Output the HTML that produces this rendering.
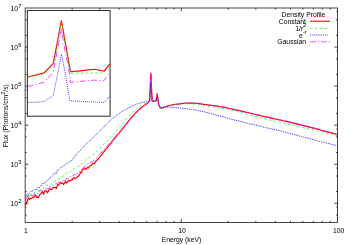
<!DOCTYPE html>
<html><head><meta charset="utf-8"><title>Flux vs Energy</title>
<style>
html,body{margin:0;padding:0;background:#fff;}
body{width:350px;height:245px;overflow:hidden;font-family:"Liberation Sans",sans-serif;}
svg{display:block;will-change:transform;}
text{font-family:"Liberation Sans",sans-serif;fill:#000;}
</style></head><body>
<svg width="350" height="245" viewBox="0 0 350 245">
<rect width="350" height="245" fill="#fff"/>
<g id="ticks">
<line x1="25.15" y1="203.30" x2="28.35" y2="203.30" stroke="#1a1a1a" stroke-width="0.80"/>
<line x1="337.50" y1="203.30" x2="334.30" y2="203.30" stroke="#1a1a1a" stroke-width="0.80"/>
<line x1="25.15" y1="215.06" x2="26.75" y2="215.06" stroke="#1a1a1a" stroke-width="0.80"/>
<line x1="337.50" y1="215.06" x2="335.90" y2="215.06" stroke="#1a1a1a" stroke-width="0.80"/>
<line x1="25.15" y1="207.09" x2="26.35" y2="207.09" stroke="#1a1a1a" stroke-width="0.80"/>
<line x1="337.50" y1="207.09" x2="336.30" y2="207.09" stroke="#1a1a1a" stroke-width="0.80"/>
<line x1="25.15" y1="164.24" x2="28.35" y2="164.24" stroke="#1a1a1a" stroke-width="0.80"/>
<line x1="337.50" y1="164.24" x2="334.30" y2="164.24" stroke="#1a1a1a" stroke-width="0.80"/>
<line x1="25.15" y1="191.54" x2="26.75" y2="191.54" stroke="#1a1a1a" stroke-width="0.80"/>
<line x1="337.50" y1="191.54" x2="335.90" y2="191.54" stroke="#1a1a1a" stroke-width="0.80"/>
<line x1="25.15" y1="176.00" x2="26.75" y2="176.00" stroke="#1a1a1a" stroke-width="0.80"/>
<line x1="337.50" y1="176.00" x2="335.90" y2="176.00" stroke="#1a1a1a" stroke-width="0.80"/>
<line x1="25.15" y1="168.03" x2="26.35" y2="168.03" stroke="#1a1a1a" stroke-width="0.80"/>
<line x1="337.50" y1="168.03" x2="336.30" y2="168.03" stroke="#1a1a1a" stroke-width="0.80"/>
<line x1="25.15" y1="125.18" x2="28.35" y2="125.18" stroke="#1a1a1a" stroke-width="0.80"/>
<line x1="337.50" y1="125.18" x2="334.30" y2="125.18" stroke="#1a1a1a" stroke-width="0.80"/>
<line x1="25.15" y1="152.48" x2="26.75" y2="152.48" stroke="#1a1a1a" stroke-width="0.80"/>
<line x1="337.50" y1="152.48" x2="335.90" y2="152.48" stroke="#1a1a1a" stroke-width="0.80"/>
<line x1="25.15" y1="136.94" x2="26.75" y2="136.94" stroke="#1a1a1a" stroke-width="0.80"/>
<line x1="337.50" y1="136.94" x2="335.90" y2="136.94" stroke="#1a1a1a" stroke-width="0.80"/>
<line x1="25.15" y1="128.97" x2="26.35" y2="128.97" stroke="#1a1a1a" stroke-width="0.80"/>
<line x1="337.50" y1="128.97" x2="336.30" y2="128.97" stroke="#1a1a1a" stroke-width="0.80"/>
<line x1="25.15" y1="86.12" x2="28.35" y2="86.12" stroke="#1a1a1a" stroke-width="0.80"/>
<line x1="337.50" y1="86.12" x2="334.30" y2="86.12" stroke="#1a1a1a" stroke-width="0.80"/>
<line x1="25.15" y1="113.42" x2="26.75" y2="113.42" stroke="#1a1a1a" stroke-width="0.80"/>
<line x1="337.50" y1="113.42" x2="335.90" y2="113.42" stroke="#1a1a1a" stroke-width="0.80"/>
<line x1="25.15" y1="97.88" x2="26.75" y2="97.88" stroke="#1a1a1a" stroke-width="0.80"/>
<line x1="337.50" y1="97.88" x2="335.90" y2="97.88" stroke="#1a1a1a" stroke-width="0.80"/>
<line x1="25.15" y1="89.91" x2="26.35" y2="89.91" stroke="#1a1a1a" stroke-width="0.80"/>
<line x1="337.50" y1="89.91" x2="336.30" y2="89.91" stroke="#1a1a1a" stroke-width="0.80"/>
<line x1="25.15" y1="47.06" x2="28.35" y2="47.06" stroke="#1a1a1a" stroke-width="0.80"/>
<line x1="337.50" y1="47.06" x2="334.30" y2="47.06" stroke="#1a1a1a" stroke-width="0.80"/>
<line x1="25.15" y1="74.36" x2="26.75" y2="74.36" stroke="#1a1a1a" stroke-width="0.80"/>
<line x1="337.50" y1="74.36" x2="335.90" y2="74.36" stroke="#1a1a1a" stroke-width="0.80"/>
<line x1="25.15" y1="58.82" x2="26.75" y2="58.82" stroke="#1a1a1a" stroke-width="0.80"/>
<line x1="337.50" y1="58.82" x2="335.90" y2="58.82" stroke="#1a1a1a" stroke-width="0.80"/>
<line x1="25.15" y1="50.85" x2="26.35" y2="50.85" stroke="#1a1a1a" stroke-width="0.80"/>
<line x1="337.50" y1="50.85" x2="336.30" y2="50.85" stroke="#1a1a1a" stroke-width="0.80"/>
<line x1="25.15" y1="35.30" x2="26.75" y2="35.30" stroke="#1a1a1a" stroke-width="0.80"/>
<line x1="337.50" y1="35.30" x2="335.90" y2="35.30" stroke="#1a1a1a" stroke-width="0.80"/>
<line x1="25.15" y1="19.76" x2="26.75" y2="19.76" stroke="#1a1a1a" stroke-width="0.80"/>
<line x1="337.50" y1="19.76" x2="335.90" y2="19.76" stroke="#1a1a1a" stroke-width="0.80"/>
<line x1="25.15" y1="11.79" x2="26.35" y2="11.79" stroke="#1a1a1a" stroke-width="0.80"/>
<line x1="337.50" y1="11.79" x2="336.30" y2="11.79" stroke="#1a1a1a" stroke-width="0.80"/>
<line x1="72.16" y1="222.50" x2="72.16" y2="220.90" stroke="#1a1a1a" stroke-width="0.80"/>
<line x1="72.16" y1="8.00" x2="72.16" y2="9.60" stroke="#1a1a1a" stroke-width="0.80"/>
<line x1="99.66" y1="222.50" x2="99.66" y2="220.90" stroke="#1a1a1a" stroke-width="0.80"/>
<line x1="99.66" y1="8.00" x2="99.66" y2="9.60" stroke="#1a1a1a" stroke-width="0.80"/>
<line x1="119.18" y1="222.50" x2="119.18" y2="220.90" stroke="#1a1a1a" stroke-width="0.80"/>
<line x1="119.18" y1="8.00" x2="119.18" y2="9.60" stroke="#1a1a1a" stroke-width="0.80"/>
<line x1="134.31" y1="222.50" x2="134.31" y2="220.90" stroke="#1a1a1a" stroke-width="0.80"/>
<line x1="134.31" y1="8.00" x2="134.31" y2="9.60" stroke="#1a1a1a" stroke-width="0.80"/>
<line x1="146.68" y1="222.50" x2="146.68" y2="220.90" stroke="#1a1a1a" stroke-width="0.80"/>
<line x1="146.68" y1="8.00" x2="146.68" y2="9.60" stroke="#1a1a1a" stroke-width="0.80"/>
<line x1="157.13" y1="222.50" x2="157.13" y2="220.90" stroke="#1a1a1a" stroke-width="0.80"/>
<line x1="157.13" y1="8.00" x2="157.13" y2="9.60" stroke="#1a1a1a" stroke-width="0.80"/>
<line x1="166.19" y1="222.50" x2="166.19" y2="220.90" stroke="#1a1a1a" stroke-width="0.80"/>
<line x1="166.19" y1="8.00" x2="166.19" y2="9.60" stroke="#1a1a1a" stroke-width="0.80"/>
<line x1="174.18" y1="222.50" x2="174.18" y2="220.90" stroke="#1a1a1a" stroke-width="0.80"/>
<line x1="174.18" y1="8.00" x2="174.18" y2="9.60" stroke="#1a1a1a" stroke-width="0.80"/>
<line x1="181.33" y1="222.50" x2="181.33" y2="219.30" stroke="#1a1a1a" stroke-width="0.80"/>
<line x1="181.33" y1="8.00" x2="181.33" y2="11.20" stroke="#1a1a1a" stroke-width="0.80"/>
<line x1="228.34" y1="222.50" x2="228.34" y2="220.90" stroke="#1a1a1a" stroke-width="0.80"/>
<line x1="228.34" y1="8.00" x2="228.34" y2="9.60" stroke="#1a1a1a" stroke-width="0.80"/>
<line x1="255.84" y1="222.50" x2="255.84" y2="220.90" stroke="#1a1a1a" stroke-width="0.80"/>
<line x1="255.84" y1="8.00" x2="255.84" y2="9.60" stroke="#1a1a1a" stroke-width="0.80"/>
<line x1="275.35" y1="222.50" x2="275.35" y2="220.90" stroke="#1a1a1a" stroke-width="0.80"/>
<line x1="275.35" y1="8.00" x2="275.35" y2="9.60" stroke="#1a1a1a" stroke-width="0.80"/>
<line x1="290.49" y1="222.50" x2="290.49" y2="220.90" stroke="#1a1a1a" stroke-width="0.80"/>
<line x1="290.49" y1="8.00" x2="290.49" y2="9.60" stroke="#1a1a1a" stroke-width="0.80"/>
<line x1="302.85" y1="222.50" x2="302.85" y2="220.90" stroke="#1a1a1a" stroke-width="0.80"/>
<line x1="302.85" y1="8.00" x2="302.85" y2="9.60" stroke="#1a1a1a" stroke-width="0.80"/>
<line x1="313.31" y1="222.50" x2="313.31" y2="220.90" stroke="#1a1a1a" stroke-width="0.80"/>
<line x1="313.31" y1="8.00" x2="313.31" y2="9.60" stroke="#1a1a1a" stroke-width="0.80"/>
<line x1="322.37" y1="222.50" x2="322.37" y2="220.90" stroke="#1a1a1a" stroke-width="0.80"/>
<line x1="322.37" y1="8.00" x2="322.37" y2="9.60" stroke="#1a1a1a" stroke-width="0.80"/>
<line x1="330.35" y1="222.50" x2="330.35" y2="220.90" stroke="#1a1a1a" stroke-width="0.80"/>
<line x1="330.35" y1="8.00" x2="330.35" y2="9.60" stroke="#1a1a1a" stroke-width="0.80"/>
</g>
<g id="main-curves">
<polyline points="25.5,204.9 26.5,202.2 27.5,201.0 28.5,197.6 29.5,199.3 30.5,198.6 31.5,198.5 32.5,197.2 33.5,197.6 34.5,196.5 35.5,194.9 36.5,197.4 37.5,196.9 38.5,197.5 39.5,194.9 40.5,193.9 41.5,193.2 42.5,191.5 43.5,194.2 44.5,191.2 45.5,190.6 46.5,191.3 47.5,192.8 48.5,190.9 49.5,189.0 50.5,188.8 51.5,189.8 52.5,188.5 53.5,187.3 54.5,187.3 55.5,187.8 56.5,188.5 57.5,184.7 58.5,184.9 59.5,184.3 60.5,182.4 61.5,183.4 62.5,183.0 63.5,184.6 64.5,183.1 65.5,181.4 66.5,183.0 67.5,181.8 68.5,180.3 69.5,180.9 70.5,180.5 71.5,179.7 72.5,179.8 73.5,177.4 74.5,178.2 75.5,178.4 76.5,177.5 77.5,176.8 78.5,175.8 79.5,175.0 80.5,172.2 81.5,172.6 82.5,169.9 83.5,169.7 84.5,168.1 85.5,169.2 86.5,168.8 87.5,167.4 88.5,168.0 89.5,166.1 90.5,165.8 91.5,165.1 92.5,163.7 93.5,163.6 94.5,163.4 95.5,161.0 96.5,160.8 97.5,159.3 98.5,158.9 99.5,157.3 100.5,156.2 101.5,155.0 102.5,153.6 103.5,151.9 104.5,151.5 105.5,149.4 106.5,148.6 107.5,147.5 108.5,145.9 109.5,144.9 110.5,143.9 111.5,142.4 112.5,141.0 113.5,139.4 114.5,138.5 115.5,137.4 116.5,136.2 117.5,134.9 118.5,133.8 119.5,132.5 120.5,131.4 121.5,130.2 122.5,128.9 123.5,127.6 124.5,126.3 125.5,125.0 126.5,123.7 127.5,122.4 128.5,121.1 129.5,119.9 130.5,118.7 131.5,117.5 132.5,116.4 133.5,115.3 134.5,114.2 135.5,113.1 136.5,112.1 137.5,111.1 138.5,110.1 139.5,109.2 140.5,108.3 141.5,107.5 142.5,106.7 143.5,106.0 144.5,105.3 145.5,104.7 146.5,103.9 147.5,103.1 148.5,102.3 148.6,102.2 149.6,101.2 150.8,73.0 152.2,101.2 154.0,101.0 156.0,100.8 157.3,93.7 158.6,104.5 160.4,107.9 161.5,108.0 163.5,107.2 165.5,106.5 167.5,106.0 169.5,105.5 171.5,105.1 173.5,104.7 175.5,104.4 177.5,104.1 179.5,103.9 181.5,103.6 183.5,103.4 185.5,103.2 187.5,103.1 189.5,103.1 191.5,103.2 193.5,103.2 195.5,103.3 197.5,103.5 199.5,103.7 201.5,104.0 203.5,104.3 205.5,104.5 207.5,104.8 209.5,105.1 211.5,105.4 213.5,105.6 215.5,105.9 217.5,106.2 219.5,106.5 221.5,106.9 223.5,107.2 225.5,107.6 227.5,108.0 229.5,108.5 231.5,108.9 233.5,109.3 235.5,109.8 237.5,110.2 239.5,110.7 241.5,111.1 243.5,111.6 245.5,112.1 247.5,112.5 249.5,113.0 251.5,113.5 253.5,114.0 255.5,114.5 257.5,114.9 259.5,115.4 261.5,115.9 263.5,116.3 265.5,116.8 267.5,117.2 269.5,117.7 271.5,118.1 273.5,118.6 275.5,119.0 277.5,119.4 279.5,119.9 281.5,120.3 283.5,120.8 285.5,121.2 287.5,121.7 289.5,122.2 291.5,122.7 293.5,123.1 295.5,123.6 297.5,124.1 299.5,124.6 301.5,125.1 303.5,125.6 305.5,126.2 307.5,126.7 309.5,127.2 311.5,127.7 313.5,128.2 315.5,128.7 317.5,129.2 319.5,129.7 321.5,130.3 323.5,130.8 325.5,131.3 327.5,131.8 329.5,132.4 331.5,132.9 333.5,133.4 335.5,134.0 337.5,134.5" fill="none" stroke="#ff0000" stroke-width="1.20" stroke-linejoin="round"/>
<polyline points="25.5,197.0 26.5,195.9 27.5,198.1 28.5,195.1 29.5,195.1 30.5,196.0 31.5,193.2 32.5,193.1 33.5,193.3 34.5,192.4 35.5,191.2 36.5,191.6 37.5,191.0 38.5,191.3 39.5,188.9 40.5,189.2 41.5,190.1 42.5,190.1 43.5,187.0 44.5,188.1 45.5,186.3 46.5,185.8 47.5,185.2 48.5,185.0 49.5,185.3 50.5,184.5 51.5,183.5 52.5,182.6 53.5,182.2 54.5,181.5 55.5,181.4 56.5,179.9 57.5,179.7 58.5,179.0 59.5,178.3 60.5,177.8 61.5,177.1 62.5,176.9 63.5,175.5 64.5,175.7 65.5,174.1 66.5,173.4 67.5,173.1 68.5,172.6 69.5,172.0 70.5,171.8 71.5,171.1 72.5,170.2 73.5,169.3 74.5,168.8 75.5,168.7 76.5,167.7 77.5,166.6 78.5,166.1 79.5,165.4 80.5,165.1 81.5,163.9 82.5,163.6 83.5,162.3 84.5,161.2 85.5,160.3 86.5,159.7 87.5,158.7 88.5,157.9 89.5,157.4 90.5,156.6 91.5,156.1 92.5,155.2 93.5,154.1 94.5,153.6 95.5,152.5 96.5,151.7 97.5,150.7 98.5,149.6 99.5,148.5 100.5,147.5 101.5,146.5 102.5,145.5 103.5,144.4 104.5,143.4 105.5,142.4 106.5,141.3 107.5,140.2 108.5,139.1 109.5,138.0 110.5,136.9 111.5,135.8 112.5,134.7 113.5,133.7 114.5,132.6 115.5,131.5 116.5,130.4 117.5,129.3 118.5,128.3 119.5,127.2 120.5,126.1 121.5,125.0 122.5,123.9 123.5,122.7 124.5,121.5 125.5,120.3 126.5,119.1 127.5,118.0 128.5,116.8 129.5,115.7 130.5,114.6 131.5,113.5 132.5,112.4 133.5,111.3 134.5,110.4 135.5,109.5 136.5,108.6 137.5,107.9 138.5,107.1 139.5,106.4 140.5,105.7 141.5,105.1 142.5,104.5 143.5,104.0 144.5,103.5 145.5,103.0 146.5,102.6 147.5,102.2 148.5,101.8 148.6,101.8 149.6,101.2 150.8,79.0 152.2,101.2 154.0,101.0 156.0,100.8 157.3,95.5 158.6,104.5 160.4,107.9 161.5,108.0 163.5,107.2 165.5,106.6 167.5,106.0 169.5,105.6 171.5,105.2 173.5,104.9 175.5,104.6 177.5,104.4 179.5,104.1 181.5,104.0 183.5,103.8 185.5,103.7 187.5,103.6 189.5,103.6 191.5,103.7 193.5,103.9 195.5,104.1 197.5,104.3 199.5,104.6 201.5,105.0 203.5,105.4 205.5,105.8 207.5,106.2 209.5,106.5 211.5,106.8 213.5,107.1 215.5,107.4 217.5,107.7 219.5,108.0 221.5,108.3 223.5,108.7 225.5,109.1 227.5,109.5 229.5,110.0 231.5,110.4 233.5,110.9 235.5,111.3 237.5,111.8 239.5,112.3 241.5,112.8 243.5,113.3 245.5,113.8 247.5,114.3 249.5,114.9 251.5,115.4 253.5,115.9 255.5,116.4 257.5,117.0 259.5,117.5 261.5,118.0 263.5,118.5 265.5,119.0 267.5,119.4 269.5,119.9 271.5,120.4 273.5,120.9 275.5,121.4 277.5,121.8 279.5,122.3 281.5,122.7 283.5,123.2 285.5,123.6 287.5,124.1 289.5,124.5 291.5,125.0 293.5,125.4 295.5,125.9 297.5,126.4 299.5,126.8 301.5,127.3 303.5,127.8 305.5,128.2 307.5,128.7 309.5,129.2 311.5,129.6 313.5,130.1 315.5,130.6 317.5,131.0 319.5,131.5 321.5,131.9 323.5,132.4 325.5,132.8 327.5,133.3 329.5,133.7 331.5,134.2 333.5,134.6 335.5,135.1 337.5,135.5" fill="none" stroke="#00ff00" stroke-width="0.80" stroke-dasharray="2.2 2.65" stroke-linejoin="round"/>
<polyline points="25.5,196.3 26.5,195.3 27.5,193.8 28.5,194.2 29.5,193.1 30.5,192.3 31.5,190.7 32.5,190.9 33.5,190.4 34.5,189.3 35.5,189.7 36.5,189.9 37.5,187.9 38.5,187.5 39.5,187.6 40.5,185.8 41.5,185.9 42.5,183.3 43.5,183.1 44.5,183.4 45.5,182.2 46.5,180.9 47.5,180.7 48.5,179.5 49.5,178.8 50.5,177.4 51.5,176.9 52.5,176.1 53.5,174.8 54.5,173.0 55.5,173.1 56.5,173.4 57.5,169.8 58.5,169.7 59.5,168.8 60.5,167.8 61.5,167.2 62.5,166.4 63.5,165.9 64.5,165.4 65.5,164.1 66.5,163.7 67.5,163.0 68.5,162.8 69.5,161.9 70.5,161.1 71.5,161.0 72.5,159.3 73.5,157.9 74.5,157.1 75.5,155.4 76.5,154.4 77.5,153.2 78.5,151.9 79.5,150.8 80.5,150.2 81.5,149.2 82.5,148.2 83.5,147.3 84.5,145.9 85.5,144.9 86.5,143.7 87.5,142.7 88.5,141.9 89.5,141.0 90.5,140.0 91.5,139.1 92.5,138.1 93.5,137.2 94.5,136.2 95.5,135.2 96.5,134.2 97.5,133.2 98.5,132.2 99.5,131.2 100.5,130.2 101.5,129.2 102.5,128.2 103.5,127.2 104.5,126.1 105.5,125.1 106.5,124.1 107.5,123.1 108.5,122.2 109.5,121.3 110.5,120.3 111.5,119.4 112.5,118.5 113.5,117.7 114.5,116.8 115.5,116.1 116.5,115.3 117.5,114.6 118.5,113.9 119.5,113.3 120.5,112.6 121.5,111.9 122.5,111.2 123.5,110.5 124.5,109.9 125.5,109.4 126.5,108.9 127.5,108.4 128.5,107.9 129.5,107.5 130.5,106.9 131.5,106.4 132.5,105.9 133.5,105.4 134.5,105.0 135.5,104.6 136.5,104.2 137.5,103.8 138.5,103.5 139.5,103.2 140.5,102.9 141.5,102.6 142.5,102.4 143.5,102.2 144.5,102.0 145.5,101.8 146.5,101.7 147.5,101.5 148.5,101.4 148.6,101.4 149.6,101.2 150.8,83.0 152.2,101.2 154.0,101.0 156.0,100.8 157.3,96.5 158.6,104.5 160.4,107.9 161.5,108.0 163.5,107.8 165.5,107.5 167.5,107.3 169.5,107.2 171.5,107.3 173.5,107.4 175.5,107.6 177.5,107.8 179.5,108.0 181.5,108.1 183.5,108.4 185.5,108.6 187.5,108.9 189.5,109.1 191.5,109.4 193.5,109.7 195.5,110.1 197.5,110.4 199.5,110.8 201.5,111.2 203.5,111.7 205.5,112.2 207.5,112.7 209.5,113.2 211.5,113.7 213.5,114.2 215.5,114.8 217.5,115.3 219.5,115.9 221.5,116.4 223.5,117.0 225.5,117.6 227.5,118.1 229.5,118.7 231.5,119.2 233.5,119.7 235.5,120.2 237.5,120.7 239.5,121.2 241.5,121.7 243.5,122.2 245.5,122.7 247.5,123.2 249.5,123.7 251.5,124.2 253.5,124.6 255.5,125.1 257.5,125.6 259.5,126.1 261.5,126.6 263.5,127.1 265.5,127.5 267.5,128.0 269.5,128.4 271.5,128.8 273.5,129.3 275.5,129.7 277.5,130.2 279.5,130.7 281.5,131.2 283.5,131.7 285.5,132.2 287.5,132.7 289.5,133.3 291.5,133.8 293.5,134.3 295.5,134.9 297.5,135.4 299.5,136.0 301.5,136.5 303.5,137.1 305.5,137.6 307.5,138.1 309.5,138.7 311.5,139.2 313.5,139.7 315.5,140.2 317.5,140.8 319.5,141.3 321.5,141.8 323.5,142.3 325.5,142.8 327.5,143.3 329.5,143.8 331.5,144.3 333.5,144.8 335.5,145.3 337.5,145.8" fill="none" stroke="#0000ff" stroke-width="0.90" stroke-dasharray="0.9 0.96" stroke-linejoin="round"/>
<polyline points="25.5,200.6 26.5,197.7 27.5,197.0 28.5,194.0 29.5,196.6 30.5,195.8 31.5,195.1 32.5,195.5 33.5,195.2 34.5,193.1 35.5,192.8 36.5,192.8 37.5,193.5 38.5,192.9 39.5,190.5 40.5,190.3 41.5,191.6 42.5,191.9 43.5,189.9 44.5,188.8 45.5,189.9 46.5,188.2 47.5,188.6 48.5,188.8 49.5,187.5 50.5,186.6 51.5,186.6 52.5,185.0 53.5,184.9 54.5,184.2 55.5,184.0 56.5,183.4 57.5,183.2 58.5,182.6 59.5,182.5 60.5,182.1 61.5,181.8 62.5,182.1 63.5,179.7 64.5,181.1 65.5,179.7 66.5,178.6 67.5,178.8 68.5,178.5 69.5,178.5 70.5,176.8 71.5,177.0 72.5,176.4 73.5,174.9 74.5,174.5 75.5,174.8 76.5,174.1 77.5,173.6 78.5,172.5 79.5,171.6 80.5,170.6 81.5,170.0 82.5,168.2 83.5,167.5 84.5,166.8 85.5,165.3 86.5,165.5 87.5,164.1 88.5,163.6 89.5,163.7 90.5,162.3 91.5,161.8 92.5,161.7 93.5,160.3 94.5,159.5 95.5,158.6 96.5,157.5 97.5,156.4 98.5,155.3 99.5,154.4 100.5,153.2 101.5,152.1 102.5,150.8 103.5,149.7 104.5,148.6 105.5,147.7 106.5,146.6 107.5,145.7 108.5,144.6 109.5,143.5 110.5,142.4 111.5,141.3 112.5,140.2 113.5,139.0 114.5,137.8 115.5,136.6 116.5,135.4 117.5,134.2 118.5,133.0 119.5,131.8 120.5,130.7 121.5,129.5 122.5,128.3 123.5,127.0 124.5,125.8 125.5,124.4 126.5,123.2 127.5,121.9 128.5,120.7 129.5,119.5 130.5,118.3 131.5,117.2 132.5,116.0 133.5,114.9 134.5,113.9 135.5,112.8 136.5,111.8 137.5,110.8 138.5,109.9 139.5,109.0 140.5,108.2 141.5,107.4 142.5,106.6 143.5,105.9 144.5,105.2 145.5,104.6 146.5,103.8 147.5,103.1 148.5,102.3 148.6,102.2 149.6,101.2 150.8,73.2 152.2,101.2 154.0,101.0 156.0,100.8 157.3,93.8 158.6,104.5 160.4,107.9 161.5,108.0 163.5,107.2 165.5,106.5 167.5,106.0 169.5,105.5 171.5,105.1 173.5,104.7 175.5,104.4 177.5,104.1 179.5,103.9 181.5,103.6 183.5,103.4 185.5,103.2 187.5,103.1 189.5,103.1 191.5,103.2 193.5,103.2 195.5,103.3 197.5,103.5 199.5,103.7 201.5,104.0 203.5,104.3 205.5,104.5 207.5,104.8 209.5,105.1 211.5,105.4 213.5,105.6 215.5,105.9 217.5,106.2 219.5,106.5 221.5,106.9 223.5,107.2 225.5,107.6 227.5,108.0 229.5,108.5 231.5,108.9 233.5,109.3 235.5,109.8 237.5,110.2 239.5,110.7 241.5,111.1 243.5,111.6 245.5,112.1 247.5,112.5 249.5,113.0 251.5,113.5 253.5,114.0 255.5,114.5 257.5,114.9 259.5,115.4 261.5,115.9 263.5,116.3 265.5,116.8 267.5,117.2 269.5,117.7 271.5,118.1 273.5,118.6 275.5,119.0 277.5,119.4 279.5,119.9 281.5,120.3 283.5,120.8 285.5,121.2 287.5,121.7 289.5,122.2 291.5,122.7 293.5,123.1 295.5,123.6 297.5,124.1 299.5,124.6 301.5,125.1 303.5,125.6 305.5,126.2 307.5,126.7 309.5,127.2 311.5,127.7 313.5,128.2 315.5,128.7 317.5,129.2 319.5,129.7 321.5,130.3 323.5,130.8 325.5,131.3 327.5,131.8 329.5,132.4 331.5,132.9 333.5,133.4 335.5,134.0 337.5,134.5" fill="none" stroke="#ff00ff" stroke-width="0.80" stroke-dasharray="6.0 2.6 1.2 1.7" stroke-linejoin="round"/>
</g>
<g id="inset">
<rect x="27.4" y="10.5" width="82.69999999999999" height="105.7" fill="#fff" stroke="#2a2a2a" stroke-width="1"/>
<svg x="0" y="0" width="350" height="245" viewBox="0 0 350 245">
<clipPath id="ic"><rect x="27.4" y="10.5" width="82.69999999999999" height="105.7"/></clipPath>
<g clip-path="url(#ic)">
<polyline points="27.4,77.0 35.0,75.2 44.2,72.9 53.3,63.3 61.4,20.6 70.5,71.8 80.0,70.9 94.7,69.3 104.1,71.2 110.1,63.7" fill="none" stroke="#ff0000" stroke-width="1.15" stroke-linejoin="round"/>
<polyline points="27.4,77.4 35.0,75.8 44.2,73.7 53.3,64.3 61.4,22.0 70.5,73.3 80.0,73.2 93.0,72.9 103.3,73.1 110.1,65.5" fill="none" stroke="#00ff00" stroke-width="0.75" stroke-dasharray="2.2 2.65" stroke-linejoin="round"/>
<polyline points="27.4,102.7 36.0,102.2 44.2,101.5 53.3,95.4 61.6,54.3 65.5,74.5 69.8,100.7 80.0,101.4 93.0,101.9 104.1,102.6 110.1,95.6" fill="none" stroke="#0000ff" stroke-width="0.80" stroke-dasharray="0.9 1.1" stroke-linejoin="round"/>
<polyline points="27.4,86.5 36.0,84.6 44.2,82.1 53.3,72.0 61.4,29.0 65.6,54.3 68.2,65.0 70.4,82.3 85.4,80.9 94.7,80.1 103.5,81.0 110.1,73.2" fill="none" stroke="#ff00ff" stroke-width="0.75" stroke-dasharray="6.0 2.6 1.2 1.7" stroke-linejoin="round"/>
</g></svg>
</g>
<rect x="25.15" y="8.0" width="312.35" height="214.5" fill="none" stroke="#1a1a1a" stroke-width="0.8"/>
<g id="labels">
<text x="18.1" y="205.70" text-anchor="end" font-size="6.80">10</text>
<text x="18.2" y="202.50" font-size="5.7">2</text>
<text x="18.1" y="166.74" text-anchor="end" font-size="6.80">10</text>
<text x="18.2" y="163.54" font-size="5.7">3</text>
<text x="18.1" y="127.78" text-anchor="end" font-size="6.80">10</text>
<text x="18.2" y="124.58" font-size="5.7">4</text>
<text x="18.1" y="88.82" text-anchor="end" font-size="6.80">10</text>
<text x="18.2" y="85.62" font-size="5.7">5</text>
<text x="18.1" y="49.86" text-anchor="end" font-size="6.80">10</text>
<text x="18.2" y="46.66" font-size="5.7">6</text>
<text x="18.1" y="10.90" text-anchor="end" font-size="6.80">10</text>
<text x="18.2" y="7.70" font-size="5.7">7</text>
<text x="25.95" y="232.5" text-anchor="middle" font-size="6.80">1</text>
<text x="182.03" y="232.5" text-anchor="middle" font-size="6.80">10</text>
<text x="338.60" y="232.5" text-anchor="middle" font-size="6.80">100</text>
<text x="181.5" y="242.4" text-anchor="middle" font-size="6.80">Energy (keV)</text>
<text transform="translate(8.25,147.3) rotate(-90)" font-size="6.75">Flux (Photons/cm<tspan dy="-3.1" font-size="5.6">2</tspan><tspan dy="3.1">/s)</tspan></text>
</g>
<g id="legend">
<text x="303.5" y="16.8" text-anchor="middle" font-size="6.80">Density Profile</text>
<text x="306.0" y="23.70" text-anchor="end" font-size="6.80">Constant</text>
<text x="303.2" y="30.50" text-anchor="end" font-size="6.80">1/r</text>
<text x="303.0" y="26.70" font-size="5.7">2</text>
<text x="302.7" y="37.80" text-anchor="end" font-size="6.80">e</text>
<text x="302.9" y="34.30" font-size="5.6">-r</text>
<text x="306.0" y="44.10" text-anchor="end" font-size="6.80">Gaussian</text>
<polyline points="310,21.20 330,21.20" fill="none" stroke="#ff0000" stroke-width="1.10" stroke-linejoin="round"/>
<polyline points="310.2,28.50 328.8,28.50" fill="none" stroke="#00ff00" stroke-width="0.70" stroke-dasharray="2.2 2.65" stroke-linejoin="round"/>
<polyline points="310.2,35.00 328,35.00" fill="none" stroke="#0000ff" stroke-width="0.80" stroke-dasharray="0.9 0.96" stroke-linejoin="round"/>
<polyline points="310.2,41.75 330.2,41.75" fill="none" stroke="#ff00ff" stroke-width="0.70" stroke-dasharray="5.8 2.0 1.2 2.0" stroke-linejoin="round"/>
</g>
</svg>
</body></html>
